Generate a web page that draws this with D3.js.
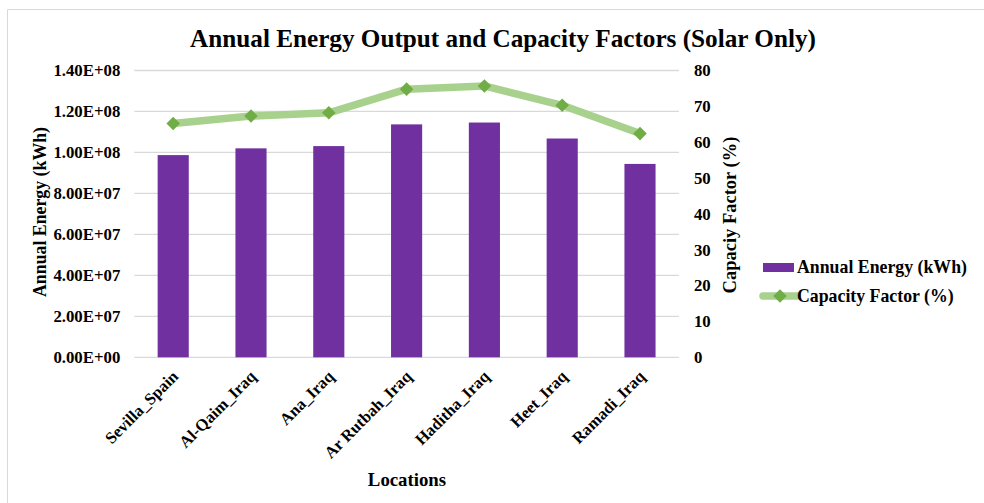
<!DOCTYPE html>
<html>
<head>
<meta charset="utf-8">
<script src="https://cdn.jsdelivr.net/npm/d3@7"></script>
<style>
  html, body { margin: 0; padding: 0; background: #fff; }
  svg { display: block; }
  text { font-family: "Liberation Serif", "Times New Roman", serif; font-weight: bold; fill: #000; }
</style>
</head>
<body>
<svg id="chart" width="984" height="503"></svg>
<script>
// Locations and their simulated solar performance
const locations = ["Sevilla_Spain", "Al-Qaim_Iraq", "Ana_Iraq", "Ar Rutbah_Iraq", "Haditha_Iraq", "Heet_Iraq", "Ramadi_Iraq"];
const annualEnergy = [9.87e7, 1.02e8, 1.031e8, 1.137e8, 1.146e8, 1.068e8, 9.44e7];
const capacityFactor = [65.2, 67.3, 68.2, 74.8, 75.7, 70.3, 62.4];
const energyTicks = [0, 2e7, 4e7, 6e7, 8e7, 1e8, 1.2e8, 1.4e8];
const cfTicks = [0, 10, 20, 30, 40, 50, 60, 70, 80];

const svg = d3.select("#chart");
const plot = { left: 134.3, right: 678.9, top: 70.5, bottom: 357.3 };

// chart frame
svg.append("path")
  .attr("d", "M7.5,503 V9.5 H984")
  .attr("fill", "none").attr("stroke", "#d9d9d9").attr("stroke-width", 1);

const x = d3.scaleBand().domain(locations).range([plot.left, plot.right]).paddingInner(0.6).paddingOuter(0.3);
const yE = d3.scaleLinear().domain([0, 1.4e8]).range([plot.bottom, plot.top]);
const yC = d3.scaleLinear().domain([0, 80]).range([plot.bottom, plot.top]);

// gridlines
svg.append("g").selectAll("line").data(energyTicks).join("line")
  .attr("x1", plot.left).attr("x2", plot.right)
  .attr("y1", d => yE(d)).attr("y2", d => yE(d))
  .attr("stroke", "#d9d9d9").attr("stroke-width", 1.3);

// left axis
const fmtE = d => {
  const s = d.toExponential(2).toUpperCase();
  const [m, e] = s.split("E");
  const n = parseInt(e, 10);
  return m + "E" + (n < 0 ? "-" : "+") + String(Math.abs(n)).padStart(2, "0");
};
const leftAxis = svg.append("g")
  .attr("transform", `translate(${plot.left},0)`)
  .call(d3.axisLeft(yE).tickValues(energyTicks).tickFormat(fmtE).tickSize(0).tickPadding(14));
leftAxis.select(".domain").remove();
leftAxis.selectAll("text").attr("font-size", 16.8).attr("font-family", "Liberation Serif").attr("font-weight", "bold").attr("fill", "#000");

// right axis
const rightAxis = svg.append("g")
  .attr("transform", `translate(${plot.right},0)`)
  .call(d3.axisRight(yC).tickValues(cfTicks).tickSize(0).tickPadding(15));
rightAxis.select(".domain").remove();
rightAxis.selectAll("text").attr("font-size", 16.8).attr("font-family", "Liberation Serif").attr("font-weight", "bold").attr("fill", "#000");

// bars
svg.append("g").selectAll("rect").data(locations).join("rect")
  .attr("x", d => x(d)).attr("width", x.bandwidth())
  .attr("y", (d, i) => yE(annualEnergy[i]))
  .attr("height", (d, i) => plot.bottom - yE(annualEnergy[i]))
  .attr("fill", "#7030a0");

// capacity factor line with diamond markers
const pts = locations.map((d, i) => [x(d) + x.bandwidth() / 2, yC(capacityFactor[i])]);
svg.append("path")
  .attr("d", d3.line()(pts))
  .attr("fill", "none").attr("stroke", "#a9d18e").attr("stroke-width", 7.5)
  .attr("stroke-linejoin", "round");
svg.append("g").selectAll("path").data(pts).join("path")
  .attr("d", d3.symbol().type(d3.symbolSquare).size(92))
  .attr("transform", d => `translate(${d[0]},${d[1]}) rotate(45)`)
  .attr("fill", "#70ad47");

// category labels
svg.append("g").selectAll("text").data(locations).join("text")
  .attr("transform", d => `translate(${x(d) + x.bandwidth() / 2 + 2},${plot.bottom + 16}) rotate(-45)`)
  .attr("text-anchor", "end").attr("dy", "0.35em")
  .attr("font-size", 16.5)
  .text(d => d);

// title and axis titles
svg.append("text").attr("x", 503).attr("y", 47).attr("text-anchor", "middle")
  .attr("font-size", 25.2).text("Annual Energy Output and Capacity Factors (Solar Only)");
svg.append("text").attr("x", 407).attr("y", 486).attr("text-anchor", "middle")
  .attr("font-size", 18.8).text("Locations");
svg.append("text").attr("transform", "translate(46,212) rotate(-90)").attr("text-anchor", "middle")
  .attr("font-size", 17.8).text("Annual Energy (kWh)");
svg.append("text").attr("transform", "translate(736,215) rotate(-90)").attr("text-anchor", "middle")
  .attr("font-size", 18.5).text("Capaciy Factor (%)");

// legend
const lg = svg.append("g");
lg.append("rect").attr("x", 763).attr("y", 263).attr("width", 31).attr("height", 9).attr("fill", "#7030a0");
lg.append("text").attr("x", 797).attr("y", 273).attr("font-size", 17.8).text("Annual Energy (kWh)");
lg.append("line").attr("x1", 763).attr("x2", 797).attr("y1", 296).attr("y2", 296)
  .attr("stroke", "#a9d18e").attr("stroke-width", 7.5).attr("stroke-linecap", "round");
lg.append("path").attr("transform", "translate(780,296) rotate(45)")
  .attr("d", d3.symbol().type(d3.symbolSquare).size(92)).attr("fill", "#70ad47");
lg.append("text").attr("x", 797).attr("y", 302).attr("font-size", 17.8).text("Capacity Factor (%)");
</script>
</body>
</html>
